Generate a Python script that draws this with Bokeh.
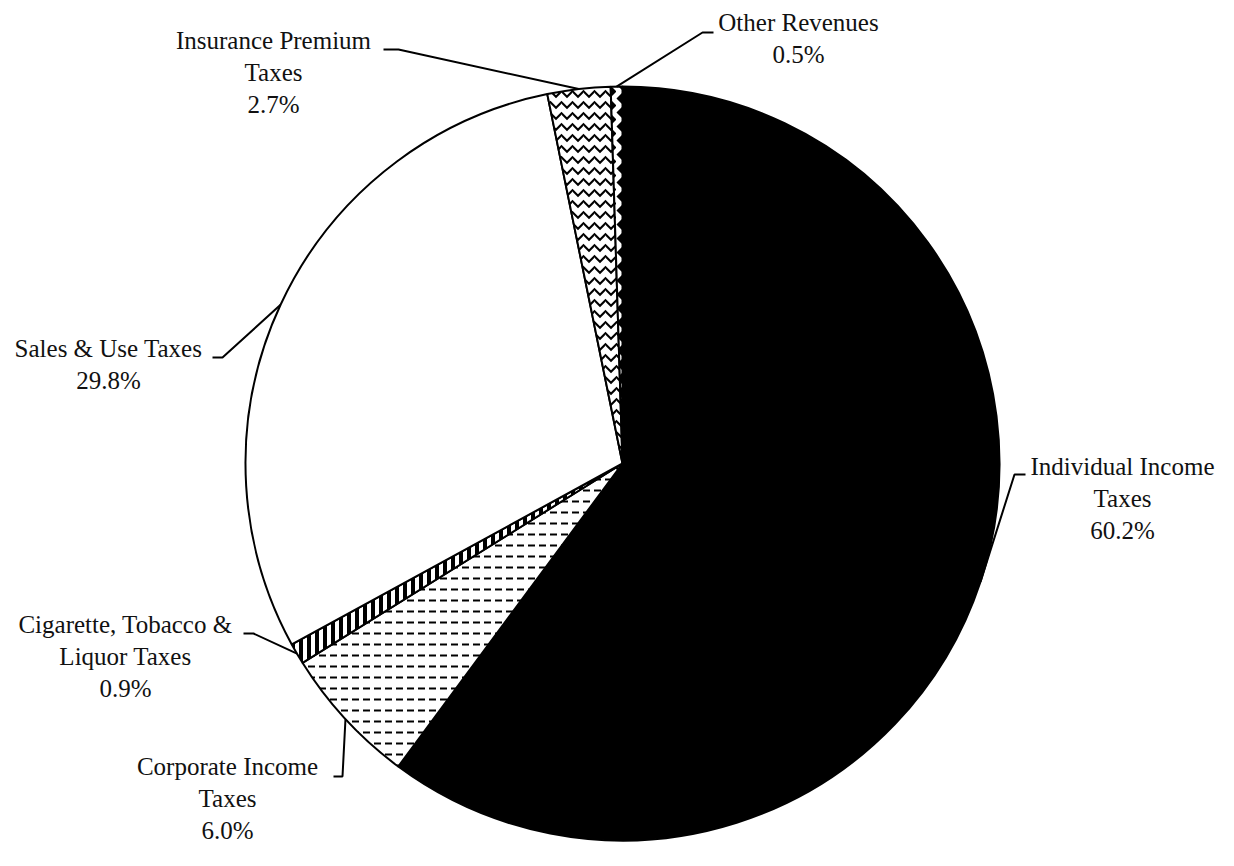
import math
from bokeh.plotting import figure
from bokeh.models import Range1d
from bokeh.core.properties import value
from bokeh.embed import file_html
from bokeh.resources import INLINE

# ---------------- data ----------------
categories = ["Individual Income\nTaxes", "Corporate Income\nTaxes",
              "Cigarette, Tobacco &\nLiquor Taxes", "Sales & Use Taxes",
              "Insurance Premium\nTaxes", "Other Revenues"]
shares = [60.2, 6.0, 0.9, 29.8, 2.7, 0.5]

# ---------------- layout / style (picture pixels) ----------------
W, H = 1218, 850
CX, CY, R = 622, 463, 377


def sy(y):
    return H - y


fills = ["black", "white", "white", "white", "white", "white"]
hatches = [None, "horizontal_dash", "vertical_line", None, "horizontal_wave", "vertical_wave"]
hatch_scales = [12, 11, 8, 12, 11, 14]
hatch_weights = [1, 2, 4, 1, 2, 5]

label_pos = [(1122, 498), (227, 798), (125, 656), (108, 364), (273, 72), (798, 38)]
elbows = [(1014, 474), (342, 776), (253, 633), (222, 357), (398, 49), (702, 32)]
ends = [(1025, 474), (333, 776), (243, 633), (212, 357), (383, 49), (713, 32)]

p = figure(width=W, height=H, output_backend="svg", toolbar_location=None,
           x_range=Range1d(0, W), y_range=Range1d(0, H), min_border=0)
p.axis.visible = False
p.grid.visible = False
p.outline_line_color = None
p.background_fill_color = "white"
p.border_fill_color = "white"

total = sum(shares)
start = math.pi / 2
for i, s in enumerate(shares):
    span = 2 * math.pi * s / total
    end = start - span
    kw = dict(fill_color=fills[i], line_color="black", line_width=2)
    if hatches[i]:
        kw.update(hatch_pattern=hatches[i], hatch_color="black",
                  hatch_scale=hatch_scales[i], hatch_weight=hatch_weights[i])
    p.wedge(x=CX, y=sy(CY), radius=R, start_angle=start, end_angle=end,
            direction="clock", **kw)
    mid = start - span / 2
    px0 = CX + R * math.cos(mid)
    py0 = sy(CY) + R * math.sin(mid)
    ex, ey = elbows[i]
    hx, hy = ends[i]
    p.line([px0, ex, hx], [py0, sy(ey), sy(hy)], line_color="black", line_width=2)
    lx, ly = label_pos[i]
    p.text(x=[lx], y=[sy(ly)], text=[f"{categories[i]}\n{s:.1f}%"],
           text_font=value("Liberation Serif"), text_font_size="25px",
           text_align="center", text_baseline="middle", text_line_height=1.2,
           text_color="#111111")
    start = end

open("out.html", "w").write(file_html(p, INLINE))
